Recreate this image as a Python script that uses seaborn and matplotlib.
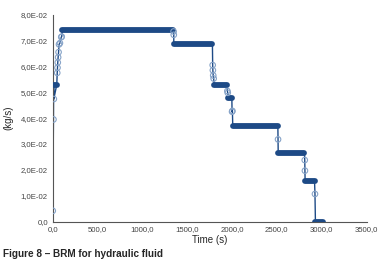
import matplotlib
matplotlib.use("Agg")
import matplotlib.pyplot as plt
import matplotlib.ticker as mticker
import seaborn as sns
import pandas as pd

# Plateaus (dense measured samples in the original) : start, end, value
plat_start = [10, 107, 1350, 1800, 1960, 2008, 2515, 2815, 2930]
plat_end = [45, 1346, 1781, 1942, 1998, 2511, 2808, 2920, 3010]
plat_val = [0.053, 0.074, 0.0686, 0.053, 0.0476, 0.0369, 0.0264, 0.0158, 0.0]

# Isolated samples between plateaus
pt_time = [0, 8, 12, 50, 53, 56, 60, 65, 70, 80, 95, 100,
           1348, 1350, 1784, 1786, 1790, 1795, 1948, 1952, 2000, 2004,
           2513, 2811, 2813, 2925]
pt_val = [0.0042, 0.0395, 0.0474, 0.0575, 0.0595, 0.0615, 0.0635, 0.0655, 0.0685,
          0.069, 0.0713, 0.0715, 0.0735, 0.0722, 0.0605, 0.0585, 0.0565, 0.0553,
          0.0505, 0.0498, 0.0425, 0.0428, 0.0318, 0.0238, 0.0197, 0.0107]

x_ticks = [0, 500, 1000, 1500, 2000, 2500, 3000, 3500]
y_ticks = [0, 0.01, 0.02, 0.03, 0.04, 0.05, 0.06, 0.07, 0.08]

# full ordered path for the connecting line
path = [(t, v) for t, v in zip(pt_time, pt_val)]
path += [(s, v) for s, v in zip(plat_start, plat_val)]
path += [(e, v) for e, v in zip(plat_end, plat_val)]
path.sort(key=lambda p: (p[0], -p[1]))
df_line = pd.DataFrame(path, columns=["t", "v"])
df_pts = pd.DataFrame({"t": pt_time, "v": pt_val})

sns.set_style("white")
plt.rcParams["font.family"] = ["Liberation Sans", "DejaVu Sans"]

dark = "#1d4a86"
light = "#86a3c8"

fig = plt.figure(figsize=(3.85, 2.71), dpi=100)
ax = fig.add_axes([0.137, 0.182, 0.815, 0.764])

sns.lineplot(data=df_line, x="t", y="v", sort=False, color=dark, linewidth=1.0,
             estimator=None, ax=ax)
ax.hlines(plat_val, plat_start, plat_end, colors=dark, linewidth=4.2,
          capstyle="round", zorder=3)
sns.scatterplot(data=df_pts, x="t", y="v", marker="o", s=16, facecolor="none",
                edgecolor=light, linewidth=0.8, ax=ax, zorder=4)

ax.set_xlim(0, 3500)
ax.set_ylim(0, 0.08)
ax.set_xticks(x_ticks)
ax.set_yticks(y_ticks)
ax.xaxis.set_major_formatter(mticker.FuncFormatter(lambda v, p: f"{v:.1f}".replace(".", ",")))

def yfmt(v, p):
    if v == 0:
        return "0,0"
    return f"{v:.1E}".replace(".", ",")
ax.yaxis.set_major_formatter(mticker.FuncFormatter(yfmt))

for s in ["top", "right"]:
    ax.spines[s].set_visible(False)
for s in ["left", "bottom"]:
    ax.spines[s].set_color("#555555")
    ax.spines[s].set_linewidth(0.8)
ax.tick_params(axis="both", direction="inout", length=4, width=0.8, color="#555555",
               labelsize=5.6, labelcolor="#444444", pad=1.5)
ax.set_xlabel("Time (s)", fontsize=7, labelpad=1)
ax.set_ylabel("(kg/s)", fontsize=7, labelpad=5)

fig.text(0.008, 0.045, "Figure 8 \u2013 BRM for hydraulic fluid", fontsize=7.2,
         fontweight="bold", ha="left", va="bottom")

fig.savefig("out.png", dpi=100)
